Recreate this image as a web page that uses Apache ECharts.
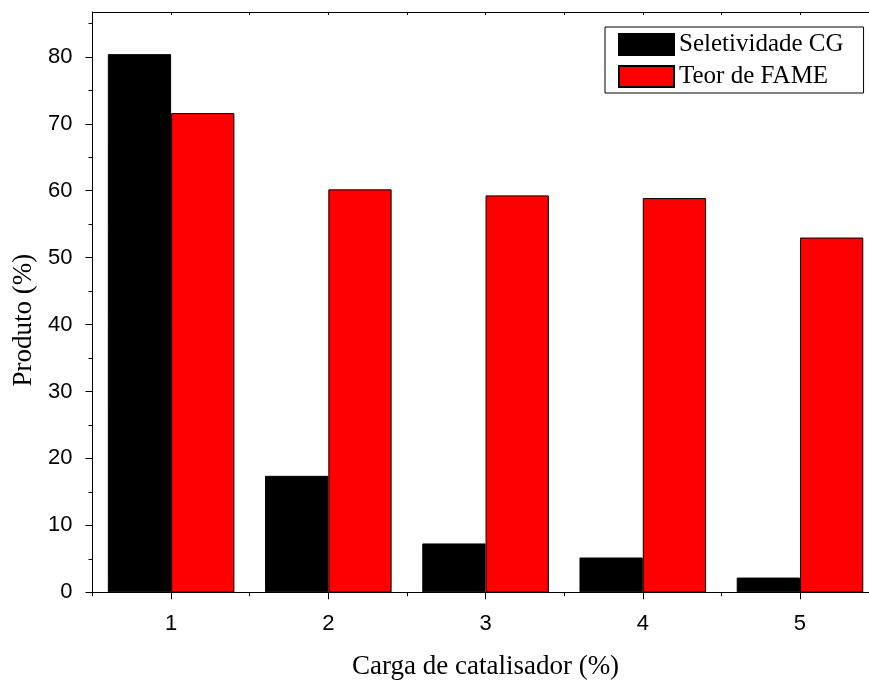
<!DOCTYPE html>
<html>
<head>
<meta charset="utf-8">
<script src="https://cdn.jsdelivr.net/npm/echarts@6/dist/echarts.min.js"></script>
<style>html,body{margin:0;padding:0;background:#fff}#chart{width:869px;height:682px}</style>
</head>
<body>
<div id="chart"></div>
<script>
var categories = ['1', '2', '3', '4', '5'];
var seletividadeCG = [80.4, 17.4, 7.3, 5.2, 2.2];
var teorFAME = [71.6, 60.2, 59.3, 58.9, 53.0];
var yMajorTicks = [0, 10, 20, 30, 40, 50, 60, 70, 80];
var yMinorTicks = [5, 15, 25, 35, 45, 55, 65, 75, 85];
var yMin = 0, yMax = 86.7;

var chart = echarts.init(document.getElementById('chart'), null, {renderer: 'canvas'});
var black = '#000';
var sans = 'Liberation Sans, Arial, sans-serif';
var serif = 'Liberation Serif, Times New Roman, serif';

chart.setOption({
  animation: false,
  backgroundColor: '#fff',
  grid: {left: 92.5, width: 786.1, top: 12, height: 580.3, containLabel: false, outerBoundsMode: 'none'},
  legend: {
    orient: 'vertical',
    left: 605, top: 27,
    padding: [5, 20, 4, 13],
    borderColor: black, borderWidth: 1,
    itemWidth: 55, itemHeight: 21, itemGap: 7,
    icon: 'rect',
    textStyle: {fontFamily: serif, fontSize: 25, color: black, lineHeight: 25},
    data: ['Seletividade CG', 'Teor de FAME']
  },
  xAxis: [
    {
      type: 'category', data: categories, position: 'bottom', boundaryGap: true,
      axisLine: {show: true, lineStyle: {color: black, width: 1}},
      axisTick: {show: true, length: 4, alignWithLabel: false, lineStyle: {color: black}},
      axisLabel: {show: true, fontFamily: sans, fontSize: 22, color: black, margin: 21},
      splitLine: {show: false},
      name: 'Carga de catalisador (%)', nameLocation: 'middle', nameGap: 61,
      nameTextStyle: {fontFamily: serif, fontSize: 27, color: black}
    },
    {
      type: 'category', data: categories, position: 'bottom', offset: 0, boundaryGap: true,
      axisLine: {show: false},
      axisTick: {show: true, length: 7, alignWithLabel: true, lineStyle: {color: black}},
      axisLabel: {show: false}, splitLine: {show: false}
    },
    {
      type: 'category', data: categories, position: 'top', offset: 0, boundaryGap: true,
      axisLine: {show: true, lineStyle: {color: black, width: 1}},
      axisTick: {show: true, inside: true, length: 3, alignWithLabel: false, lineStyle: {color: black}},
      axisLabel: {show: false}, splitLine: {show: false}
    },
    {
      type: 'category', data: categories, position: 'top', offset: 0, boundaryGap: true,
      axisLine: {show: false},
      axisTick: {show: true, inside: true, length: 3, alignWithLabel: true, lineStyle: {color: black}},
      axisLabel: {show: false}, splitLine: {show: false}
    }
  ],
  yAxis: [
    {
      type: 'value', min: yMin, max: yMax, position: 'left',
      axisLine: {show: true, lineStyle: {color: black, width: 1}},
      axisTick: {show: true, length: 7, customValues: yMajorTicks, lineStyle: {color: black}},
      axisLabel: {show: true, customValues: yMajorTicks, fontFamily: sans, fontSize: 22, color: black, margin: 20},
      splitLine: {show: false},
      name: 'Produto (%)', nameLocation: 'middle', nameGap: 55,
      nameTextStyle: {fontFamily: serif, fontSize: 27, color: black, padding: [0, 36, 0, 0]}
    },
    {
      type: 'value', min: yMin, max: yMax, position: 'left', offset: 0,
      axisLine: {show: false},
      axisTick: {show: true, length: 4, customValues: yMinorTicks, lineStyle: {color: black}},
      axisLabel: {show: false}, splitLine: {show: false}
    }
  ],
  series: [
    {
      name: 'Seletividade CG', type: 'bar', xAxisIndex: 0, yAxisIndex: 0,
      data: seletividadeCG, barGap: '0%', barCategoryGap: '19.5%',
      itemStyle: {color: '#000000', borderColor: black, borderWidth: 1}
    },
    {
      name: 'Teor de FAME', type: 'bar', xAxisIndex: 0, yAxisIndex: 0,
      data: teorFAME, barGap: '0%', barCategoryGap: '19.5%',
      itemStyle: {color: '#ff0000', borderColor: black, borderWidth: 1}
    }
  ]
});
</script>
</body>
</html>
